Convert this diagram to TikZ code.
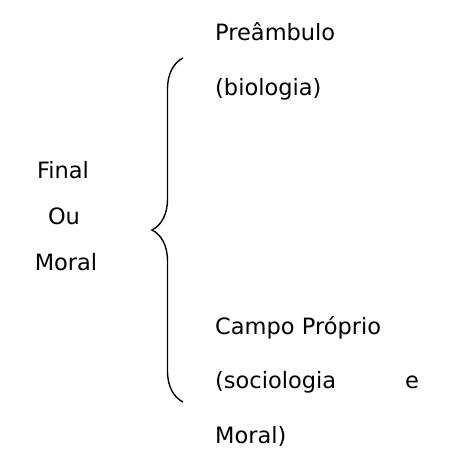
\documentclass[tikz,border=0pt]{standalone}
\usepackage{fontspec}
\setmainfont{DejaVu Sans}
\usetikzlibrary{decorations.pathreplacing}

\begin{document}
\begin{tikzpicture}[x=1pt, y=-1pt, draw=black, every node/.style={inner sep=0pt, font=\fontsize{22.5}{27}\selectfont}]
\useasboundingbox (0,0) rectangle (475,451);

\node[anchor=base] (final) at (63,178) {Final};
\node[anchor=base] (ou) at (64,224) {Ou};
\node[anchor=base] (moral) at (66,270) {Moral};

\node[anchor=base west] (prea) at (215,40) {Preâmbulo};
\node[anchor=base west] (bio) at (215,95) {(biologia)};

\node[anchor=base west] (campo) at (215,334) {Campo Próprio};
\node[anchor=base west] (socio) at (215,388) {(sociologia};
\node[anchor=base west] (e) at (405,388) {e};
\node[anchor=base west] (moral2) at (215,443) {Moral)};

\coordinate (bracebot) at (183,402);
\coordinate (bracetop) at (183,58);
\draw [line width=1.4pt, decorate, decoration={brace, amplitude=31pt}] (bracebot) -- (bracetop);
\end{tikzpicture}
\end{document}
